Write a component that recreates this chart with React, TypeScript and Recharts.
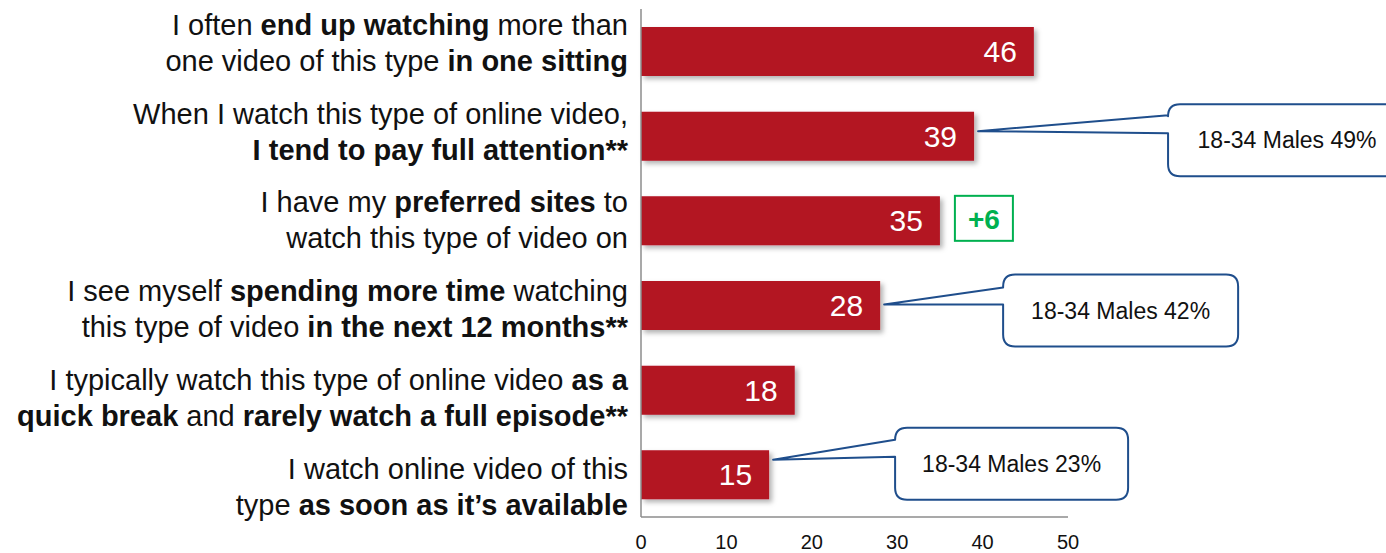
import React from "react";
import { BarChart, Bar, XAxis, YAxis, LabelList } from "recharts";

// statements, "|" splits lines, **...** marks bold runs ("****" closes bold and adds a literal "**")
const statements = [
  "I often **end up watching** more than|one video of this type **in one sitting**",
  "When I watch this type of online video,|**I tend to pay full attention****",
  "I have my **preferred sites** to|watch this type of video on",
  "I see myself **spending more time** watching|this type of video **in the next 12 months****",
  "I typically watch this type of online video **as a**|**quick break** and **rarely watch a full episode****",
  "I watch online video of this|type **as soon as it’s available**",
];
const agreePct = [46, 39, 35, 28, 18, 15];
const males1834 = [null, 49, null, 42, null, 23];
const changeVsPrior = [null, null, 6, null, null, null];
const xTicks = [0, 10, 20, 30, 40, 50];

// callout geometry, relative to bar end / bar centre
const calloutLayout: Record<number, { dx: number; top: number; bottom: number; w: number; tip: number; up: number; low: number }> = {
  1: { dx: 194, top: -32, bottom: 40, w: 238, tip: -5, up: -21, low: -3 },
  3: { dx: 123, top: -31, bottom: 41, w: 235, tip: -1, up: -18, low: -1 },
  5: { dx: 126, top: -47, bottom: 25, w: 233, tip: -15, up: -35, low: -18 },
};

const data = statements.map((s, i) => ({
  label: s,
  value: agreePct[i],
  males: males1834[i],
  change: changeVsPrior[i],
}));

const BAR = "#B31221";
const NAVY = "#1F4E8C";
const GREEN = "#00B050";
const INK = "#111111";

function renderLine(line: string) {
  const out: { text: string; bold: boolean }[] = [];
  let bold = false;
  let i = 0;
  let buf = "";
  while (i < line.length) {
    if (line.startsWith("****", i)) {
      buf += "**";
      out.push({ text: buf, bold });
      buf = "";
      bold = !bold;
      i += 4;
      continue;
    }
    if (line.startsWith("**", i)) {
      if (buf) out.push({ text: buf, bold });
      buf = "";
      bold = !bold;
      i += 2;
      continue;
    }
    buf += line[i];
    i++;
  }
  if (buf) out.push({ text: buf, bold });
  return out;
}

function StatementTick(props: any) {
  const { x, y, payload, index } = props;
  const lines = String(payload.value).split("|");
  const lh = 36;
  // the text blocks sit a little more spread out than the bars
  const shift = 1.5 + (index - 2.5) * 4.1;
  return (
    <g>
      {lines.map((ln, li) => (
        <text
          key={li}
          x={x}
          y={y + shift + (li - (lines.length - 1) / 2) * lh}
          dy="0.35em"
          textAnchor="end"
          fontSize={29}
          fill={INK}
        >
          {renderLine(ln).map((r, ri) => (
            <tspan key={ri} fontWeight={r.bold ? 700 : 400}>
              {r.text}
            </tspan>
          ))}
        </text>
      ))}
    </g>
  );
}

function Callout(props: any) {
  const { x, y, width, height, value, index } = props;
  const lay = calloutLayout[index];
  if (value == null || !lay) return null;
  const end = x + width;
  const cy = y + height / 2;
  const L = end + lay.dx;
  const R = L + lay.w;
  const T = cy + lay.top;
  const B = cy + lay.bottom;
  const r = 12;
  const d = [
    `M ${end + 4} ${cy + lay.tip}`,
    `L ${L} ${cy + lay.up}`,
    `L ${L} ${T + r}`,
    `Q ${L} ${T} ${L + r} ${T}`,
    `L ${R - r} ${T}`,
    `Q ${R} ${T} ${R} ${T + r}`,
    `L ${R} ${B - r}`,
    `Q ${R} ${B} ${R - r} ${B}`,
    `L ${L + r} ${B}`,
    `Q ${L} ${B} ${L} ${B - r}`,
    `L ${L} ${cy + lay.low}`,
    "Z",
  ].join(" ");
  return (
    <g>
      <path d={d} fill="#fff" stroke={NAVY} strokeWidth={2} strokeLinejoin="round" />
      <text x={(L + R) / 2} y={(T + B) / 2} dy="0.35em" textAnchor="middle" fontSize={23} fill={INK}>
        {`18-34 Males ${value}%`}
      </text>
    </g>
  );
}

function ChangeBox(props: any) {
  const { x, y, width, height, value } = props;
  if (value == null) return null;
  const L = x + width + 15;
  const cy = y + height / 2;
  return (
    <g>
      <rect x={L} y={cy - 25} width={58} height={45} fill="#fff" stroke={GREEN} strokeWidth={2} />
      <text x={L + 29} y={cy - 2} dy="0.35em" textAnchor="middle" fontSize={28} fontWeight={700} fill={GREEN}>
        {`+${value}`}
      </text>
    </g>
  );
}

export default function App() {
  return (
    <div style={{ position: "absolute", left: 0, top: 0, fontFamily: "'Liberation Sans', Arial, sans-serif" }}>
      <BarChart
        width={1386}
        height={553}
        data={data}
        layout="vertical"
        margin={{ top: 9, right: 318, bottom: 0, left: 0 }}
        barSize={49}
      >
        <defs>
          <filter id="barShadow" x="-5%" y="-20%" width="115%" height="160%">
            <feDropShadow dx={3} dy={3} stdDeviation={2.5} floodColor="#000" floodOpacity={0.3} />
          </filter>
        </defs>
        <XAxis
          type="number"
          domain={[0, 50]}
          ticks={xTicks}
          height={36}
          tickLine={false}
          tickMargin={12}
          axisLine={{ stroke: "#8c8c8c", strokeWidth: 1.5 }}
          tick={{ fontSize: 20, fill: INK }}
        />
        <YAxis
          type="category"
          dataKey="label"
          width={641}
          tickLine={false}
          tickMargin={7}
          axisLine={{ stroke: "#8c8c8c", strokeWidth: 1.5 }}
          tick={<StatementTick />}
          interval={0}
        />
        <Bar dataKey="value" fill={BAR} isAnimationActive={false} filter="url(#barShadow)">
          <LabelList dataKey="value" position="insideRight" offset={17} fill="#fff" fontSize={30} />
          <LabelList dataKey="males" content={<Callout />} />
          <LabelList dataKey="change" content={<ChangeBox />} />
        </Bar>
      </BarChart>
    </div>
  );
}
